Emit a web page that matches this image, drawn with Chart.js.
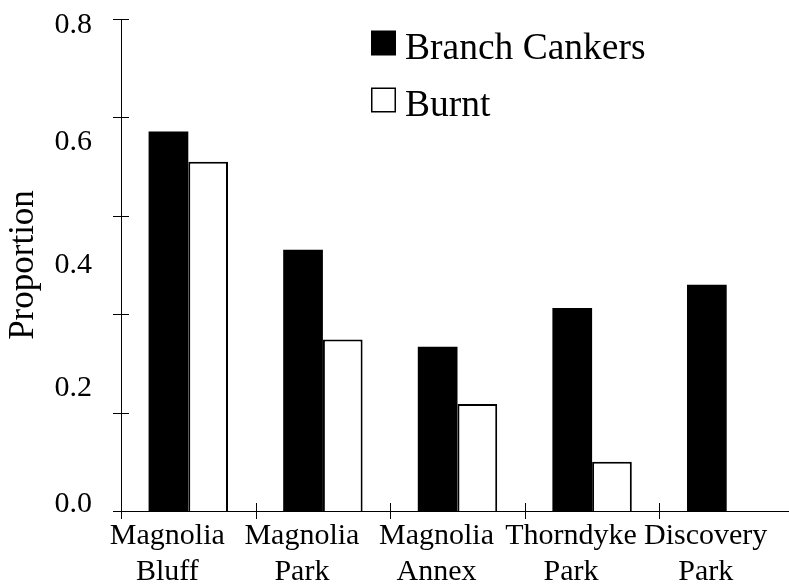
<!DOCTYPE html>
<html>
<head>
<meta charset="utf-8">
<script src="https://cdn.jsdelivr.net/npm/chart.js@4"></script>
<style>
  html, body { margin: 0; padding: 0; background: #fff; overflow: hidden; }
  #wrap { width: 794px; height: 585px; position: relative; }
</style>
</head>
<body>
<div id="wrap"><canvas id="canker-chart"></canvas></div>
<script>
// values
const sites = [
  ['Magnolia', 'Bluff'],
  ['Magnolia', 'Park'],
  ['Magnolia', 'Annex'],
  ['Thorndyke', 'Park'],
  ['Discovery', 'Park']
];
const branchCankers = [0.617, 0.425, 0.267, 0.330, 0.368];
const burnt = [0.568, 0.279, 0.174, 0.080, 0];
const yLabelValues = [0, 0.2, 0.4, 0.6, 0.8];
const yTickMarks = [0, 0.16, 0.32, 0.48, 0.64, 0.8];

const SERIF = "'Liberation Serif', 'Times New Roman', serif";

// tick marks crossing both axes, plus the y labels (end labels pulled inside)
const axisDecor = {
  id: 'axisDecor',
  afterDraw(chart) {
    const { ctx, chartArea, scales: { x, y } } = chart;
    ctx.save();
    ctx.strokeStyle = '#000';
    ctx.lineWidth = 1;
    ctx.beginPath();
    yTickMarks.forEach(v => {
      const py = Math.round(y.getPixelForValue(v)) + 0.5;
      ctx.moveTo(chartArea.left - 8, py);
      ctx.lineTo(chartArea.left + 8, py);
    });
    for (let k = 0; k <= sites.length; k++) {
      const px = Math.round(x.getPixelForValue(k - 0.5)) + 0.5;
      ctx.moveTo(px, chartArea.bottom - 8);
      ctx.lineTo(px, chartArea.bottom + 8);
    }
    ctx.stroke();

    ctx.fillStyle = '#000';
    ctx.font = '30px ' + SERIF;
    ctx.textAlign = 'right';
    ctx.textBaseline = 'middle';
    yLabelValues.forEach(v => {
      let py = y.getPixelForValue(v);
      py = Math.min(Math.max(py, chartArea.top + 6), chartArea.bottom - 7);
      ctx.fillText(v.toFixed(1), chartArea.left - 29, py);
    });
    ctx.restore();
  }
};

const boxLegend = {
  id: 'boxLegend',
  afterDraw(chart) {
    const { ctx, chartArea } = chart;
    const x0 = chartArea.left + 250;
    ctx.save();
    ctx.font = '37.5px ' + SERIF;
    ctx.textAlign = 'left';
    ctx.textBaseline = 'alphabetic';
    chart.data.datasets.forEach((ds, i) => {
      const top = chartArea.top + 11.5 + i * 57;
      ctx.fillStyle = ds.backgroundColor;
      ctx.fillRect(x0, top, 25, 25);
      if (ds.borderWidth) {
        ctx.strokeStyle = '#000';
        ctx.lineWidth = 1.5;
        ctx.strokeRect(x0 + 0.75, top + 0.75, 23.5, 23.5);
      }
      ctx.fillStyle = '#000';
      ctx.fillText(ds.label, x0 + 34, top + 28);
    });
    ctx.restore();
  }
};

new Chart(document.getElementById('canker-chart'), {
  type: 'bar',
  data: {
    labels: sites,
    datasets: [{
      label: 'Branch Cankers',
      data: branchCankers,
      backgroundColor: '#000',
      borderWidth: 0
    }, {
      label: 'Burnt',
      data: burnt,
      backgroundColor: '#fff',
      borderColor: '#000',
      borderWidth: 2
    }]
  },
  options: {
    responsive: true,
    maintainAspectRatio: false,
    animation: false,
    categoryPercentage: 0.59,
    barPercentage: 1,
    layout: { padding: { top: 19, right: 0, bottom: 0, left: 0 } },
    plugins: {
      legend: { display: false },
      tooltip: { enabled: false }
    },
    scales: {
      x: {
        offset: true,
        grid: { display: false, drawTicks: true, tickLength: 8 },
        border: { display: true, color: '#000', width: 1 },
        ticks: {
          color: '#000',
          font: { family: SERIF, size: 30, lineHeight: 1.17 },
          padding: 0,
          labelOffset: -21,
          maxRotation: 0,
          autoSkip: false
        },
        afterFit(scale) { scale.height = 74; }
      },
      y: {
        min: 0,
        max: 0.8,
        grid: { display: false },
        border: { display: true, color: '#000', width: 1 },
        ticks: { display: false },
        title: {
          display: true,
          text: 'Proportion',
          color: '#000',
          font: { family: SERIF, size: 35 },
          padding: { top: 3, bottom: 0 }
        },
        afterFit(scale) { scale.width = 121; }
      }
    }
  },
  plugins: [axisDecor, boxLegend]
});
</script>
</body>
</html>
